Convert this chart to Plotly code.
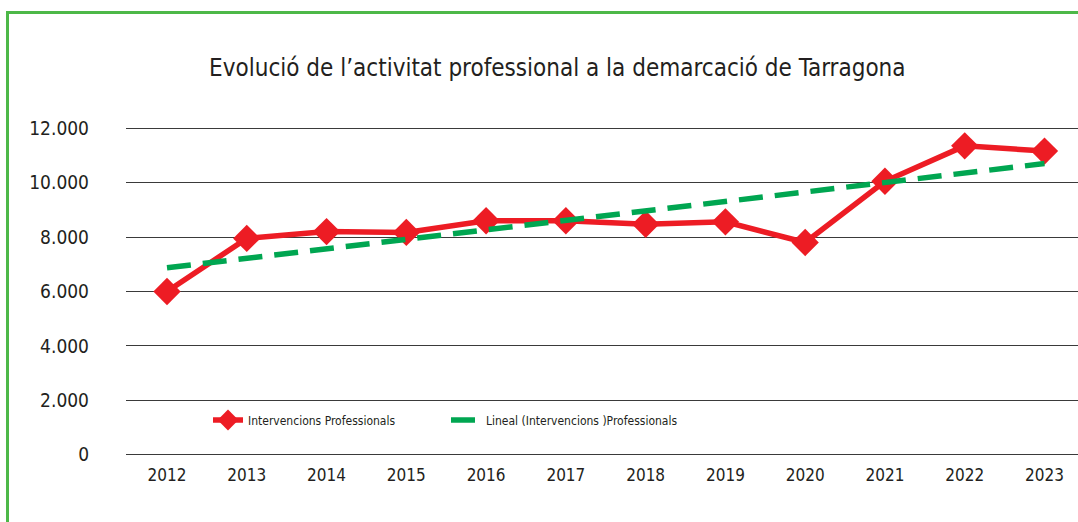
import plotly.graph_objects as go

years = ["2012", "2013", "2014", "2015", "2016", "2017", "2018", "2019", "2020", "2021", "2022", "2023"]
interv = [6000, 7950, 8200, 8170, 8600, 8600, 8470, 8560, 7800, 10050, 11350, 11160]
trend_x = ["2012", "2023"]
trend_y = [6870, 10700]
y_ticks = [0, 2000, 4000, 6000, 8000, 10000, 12000]
y_labels = ["0", "2.000", "4.000", "6.000", "8.000", "10.000", "12.000"]

FONT = "DejaVu Sans Condensed, Liberation Sans Narrow, Arial Narrow, sans-serif"
TXT = "#231F20"

T, B = 126, 65
PB = 522 - B          # plot bottom in px
PH = 522 - T - B      # plot height in px


def py(px):
    return (PB - px) / PH


fig = go.Figure()
fig.add_trace(go.Scatter(
    x=years, y=interv, mode="lines+markers", name="Intervencions Professionals",
    line=dict(color="#ED1C24", width=5.5),
    marker=dict(symbol="diamond", size=21, color="#ED1C24"),
))
fig.add_trace(go.Scatter(
    x=trend_x, y=trend_y, mode="lines", name="Lineal (Intervencions )Professionals",
    line=dict(color="#00A651", width=5.5, dash="24px,12px"),
))

fig.update_layout(
    width=1078, height=522,
    margin=dict(l=126, r=0, t=T, b=B),
    paper_bgcolor="white", plot_bgcolor="white",
    font=dict(family=FONT, color=TXT),
    title=dict(text="Evolució de l’activitat professional a la demarcació de Tarragona",
               x=0.517, xanchor="center", y=1 - 68 / 522, yanchor="middle",
               yref="container", font=dict(size=24, family=FONT, color=TXT)),
    showlegend=True,
    legend=dict(orientation="h", x=(208 - 126) / 952, xanchor="left",
                y=py(420), yanchor="middle",
                font=dict(size=12, family=FONT, color=TXT),
                bgcolor="rgba(0,0,0,0)", entrywidth=193, entrywidthmode="pixels",
                traceorder="normal"),
    xaxis=dict(type="category", range=[-0.514, 11.42], showgrid=False, zeroline=False,
               showline=False, ticks="", tickfont=dict(size=17, family=FONT, color=TXT),
               ticklabelstandoff=6, fixedrange=True),
    yaxis=dict(range=[-80, 12080], tickvals=y_ticks, ticktext=y_labels,
               showgrid=True, gridcolor="#3a3a3a", gridwidth=1.2, zeroline=False,
               showline=False, ticks="", tickfont=dict(size=19, family=FONT, color=TXT),
               ticklabelstandoff=36, fixedrange=True),
    shapes=[dict(type="rect", xref="paper", yref="paper",
                 x0=(7.5 - 126) / 952, x1=1.2, y0=-0.5, y1=py(12.5),
                 line=dict(color="#4DB848", width=3), fillcolor="rgba(0,0,0,0)",
                 layer="below")],
)

fig.write_html("out.html", config={"displayModeBar": False},
               post_script="document.body.style.margin='0px';")
